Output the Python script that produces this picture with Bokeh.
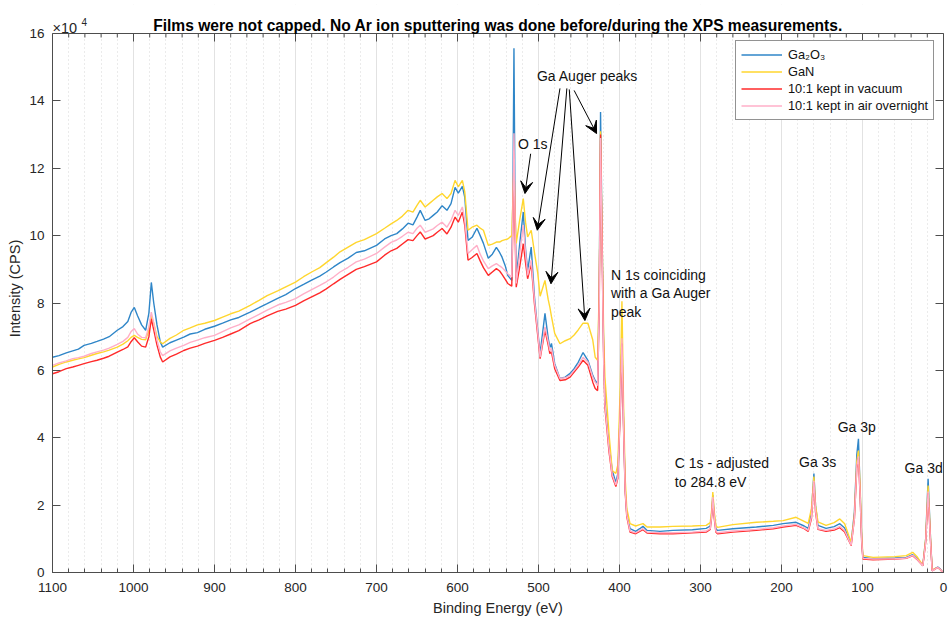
from bokeh.plotting import figure
from bokeh.models import (Range1d, LinearAxis, SingleIntervalTicker, Grid, Legend, LegendItem,
                          Label, Arrow, VeeHead, CustomJSTickFormatter, Span, BoxAnnotation)
from bokeh.embed import file_html
from bokeh.resources import INLINE

# ---------------- data (intensity in units of 1e4 CPS) ----------------
binding_energy_ev = [
    1100, 1092, 1083, 1075, 1068, 1061, 1052, 1045, 1037, 1030,
    1020, 1013, 1007, 1003, 999, 995, 990, 985, 981, 978,
    975, 971, 967, 964, 955, 947, 938, 930, 921, 912,
    900, 890, 880, 870, 856, 845, 835, 822, 812, 800,
    790, 780, 770, 762, 753, 745, 735, 725, 715, 700,
    690, 682, 675, 668, 661, 655, 650, 646, 640, 635,
    630, 625, 619, 613, 608, 603, 599, 594, 591, 587,
    582, 576, 572, 568, 562, 557, 552, 548, 545, 541,
    538, 533, 531.5, 530.3, 529, 527.5, 523, 518.8, 516, 513.4,
    509, 505, 501, 498, 492, 488, 486, 484, 480, 473.5,
    467, 461, 456, 451, 445, 439, 433, 430, 427, 425,
    423.4, 421.5, 419.5, 418, 413, 409, 404.5, 402, 399, 397,
    395, 393, 391, 387, 380, 375, 371, 366, 350, 334,
    310, 293, 288, 286, 284.8, 283, 281, 279, 260, 231,
    210, 198, 182, 172, 167, 163, 160, 158, 155, 145,
    135, 128, 122, 117, 114, 110, 107, 105, 103, 101,
    99.5, 87, 60, 46, 38, 32, 25.5, 22, 19, 16,
    14, 10, 7, 4, 1, 0,
]

ga2o3 = [
    6.39, 6.44, 6.52, 6.58, 6.63, 6.74, 6.80, 6.86, 6.93, 7.00,
    7.19, 7.30, 7.45, 7.72, 7.87, 7.62, 7.35, 7.19, 7.70, 8.61,
    8.00, 7.35, 6.85, 6.69, 6.82, 6.90, 6.99, 7.08, 7.12, 7.22,
    7.31, 7.40, 7.50, 7.57, 7.73, 7.86, 7.98, 8.14, 8.25, 8.43,
    8.55, 8.68, 8.80, 8.92, 9.07, 9.20, 9.33, 9.50, 9.55, 9.71,
    9.90, 10.00, 10.06, 10.20, 10.37, 10.32, 10.55, 10.75, 10.45, 10.50,
    10.60, 10.70, 10.89, 10.75, 10.95, 11.43, 11.26, 11.46, 11.14, 9.86,
    9.95, 10.22, 10.00, 9.77, 9.33, 9.45, 9.65, 9.50, 9.36, 9.10,
    8.82, 8.67, 11.50, 15.56, 11.00, 8.73, 9.80, 10.70, 9.60, 8.97,
    9.66, 8.18, 7.20, 6.50, 7.69, 6.95, 6.68, 6.80, 6.20, 5.76,
    5.80, 5.91, 6.05, 6.24, 6.53, 6.30, 5.85, 5.70, 5.60, 8.50,
    13.67, 10.00, 6.50, 5.10, 3.83, 3.03, 2.67, 2.94, 5.00, 7.10,
    4.50, 2.50, 1.75, 1.30, 1.22, 1.30, 1.37, 1.25, 1.22, 1.25,
    1.27, 1.31, 1.38, 1.80, 2.30, 1.70, 1.30, 1.25, 1.30, 1.35,
    1.40, 1.45, 1.49, 1.38, 1.31, 1.80, 2.94, 2.00, 1.40, 1.31,
    1.36, 1.45, 1.32, 1.00, 0.86, 1.80, 3.50, 3.97, 2.50, 1.00,
    0.45, 0.41, 0.43, 0.45, 0.53, 0.40, 0.21, 1.00, 2.78, 1.00,
    0.06, 0.12, 0.16, 0.10, 0.01, 0.00,
]

gan = [
    6.10, 6.18, 6.25, 6.30, 6.34, 6.38, 6.45, 6.50, 6.55, 6.60,
    6.69, 6.78, 6.88, 6.98, 7.04, 6.98, 6.92, 6.91, 7.20, 7.63,
    7.40, 7.00, 6.85, 6.79, 6.95, 7.05, 7.19, 7.26, 7.35, 7.40,
    7.48, 7.58, 7.68, 7.76, 7.93, 8.08, 8.22, 8.36, 8.48, 8.62,
    8.78, 8.92, 9.05, 9.20, 9.36, 9.52, 9.66, 9.80, 9.88, 10.06,
    10.22, 10.35, 10.45, 10.58, 10.75, 10.70, 10.90, 11.05, 10.85, 10.95,
    11.05, 11.15, 11.25, 11.10, 11.25, 11.64, 11.45, 11.64, 11.30, 10.16,
    10.25, 10.31, 10.22, 10.16, 9.71, 9.75, 9.81, 9.81, 9.85, 9.88,
    9.90, 10.00, 11.20, 12.20, 10.80, 9.77, 10.50, 11.10, 10.40, 9.96,
    10.16, 9.50, 8.90, 8.20, 8.67, 8.10, 7.88, 7.60, 7.10, 6.79,
    6.88, 6.94, 7.05, 7.20, 7.40, 7.40, 6.90, 6.39, 6.30, 8.50,
    13.10, 10.00, 7.00, 5.80, 4.13, 3.03, 2.94, 3.20, 5.60, 8.05,
    5.00, 2.80, 1.90, 1.45, 1.38, 1.42, 1.45, 1.35, 1.35, 1.37,
    1.38, 1.40, 1.48, 1.90, 2.39, 1.80, 1.40, 1.34, 1.42, 1.49,
    1.52, 1.54, 1.64, 1.52, 1.46, 1.90, 2.85, 2.00, 1.50, 1.40,
    1.48, 1.59, 1.45, 1.10, 0.90, 1.70, 3.30, 3.62, 2.60, 1.10,
    0.50, 0.45, 0.47, 0.50, 0.60, 0.45, 0.21, 1.00, 2.58, 1.00,
    0.08, 0.12, 0.14, 0.09, 0.01, 0.00,
]

kept_in_vacuum = [
    5.90, 5.96, 6.05, 6.10, 6.15, 6.20, 6.26, 6.30, 6.36, 6.42,
    6.54, 6.62, 6.70, 6.85, 6.97, 6.85, 6.72, 6.69, 7.00, 7.53,
    7.20, 6.75, 6.40, 6.25, 6.40, 6.48, 6.59, 6.66, 6.72, 6.80,
    6.89, 6.98, 7.08, 7.18, 7.39, 7.50, 7.62, 7.75, 7.82, 7.93,
    8.06, 8.18, 8.30, 8.42, 8.57, 8.70, 8.85, 9.00, 9.08, 9.22,
    9.42, 9.55, 9.62, 9.75, 9.88, 9.85, 10.00, 10.11, 9.90, 9.95,
    10.00, 10.10, 10.21, 10.05, 10.25, 10.55, 10.40, 10.70, 10.30, 9.27,
    9.35, 9.47, 9.25, 9.05, 8.82, 8.92, 9.02, 8.95, 8.85, 8.70,
    8.58, 8.50, 10.50, 12.44, 10.20, 8.47, 9.10, 9.76, 9.20, 8.72,
    9.17, 7.98, 7.05, 6.35, 7.19, 6.75, 6.50, 6.55, 6.05, 5.70,
    5.72, 5.80, 5.95, 6.10, 6.30, 6.15, 5.65, 5.46, 5.40, 8.00,
    13.00, 9.60, 6.30, 4.90, 3.60, 2.85, 2.55, 2.80, 4.80, 6.80,
    4.30, 2.40, 1.65, 1.20, 1.15, 1.22, 1.27, 1.17, 1.15, 1.15,
    1.18, 1.20, 1.28, 1.70, 2.18, 1.60, 1.20, 1.15, 1.20, 1.25,
    1.30, 1.35, 1.40, 1.30, 1.22, 1.60, 2.68, 1.80, 1.28, 1.22,
    1.26, 1.33, 1.20, 0.95, 0.80, 1.60, 3.10, 3.40, 2.30, 0.90,
    0.40, 0.38, 0.40, 0.42, 0.50, 0.37, 0.20, 0.90, 2.35, 0.90,
    0.05, 0.11, 0.15, 0.09, 0.01, 0.00,
]

kept_in_air = [
    6.15, 6.22, 6.28, 6.35, 6.38, 6.42, 6.50, 6.55, 6.60, 6.66,
    6.77, 6.86, 6.98, 7.15, 7.24, 7.08, 6.98, 6.97, 7.30, 7.73,
    7.40, 6.90, 6.55, 6.44, 6.58, 6.66, 6.74, 6.83, 6.90, 6.97,
    7.04, 7.15, 7.26, 7.35, 7.53, 7.66, 7.79, 7.94, 8.02, 8.13,
    8.27, 8.40, 8.52, 8.63, 8.77, 8.92, 9.06, 9.22, 9.30, 9.47,
    9.66, 9.80, 9.87, 9.98, 10.10, 10.06, 10.22, 10.31, 10.10, 10.15,
    10.20, 10.30, 10.40, 10.25, 10.45, 10.75, 10.60, 10.85, 10.45, 9.47,
    9.58, 9.71, 9.45, 9.25, 9.02, 9.10, 9.17, 9.10, 9.05, 8.95,
    8.87, 8.77, 10.80, 13.04, 10.50, 8.58, 9.50, 10.31, 9.50, 8.82,
    9.27, 8.08, 7.15, 6.39, 7.29, 6.85, 6.59, 6.65, 6.15, 5.76,
    5.78, 5.85, 6.00, 6.15, 6.39, 6.25, 5.80, 5.65, 5.55, 8.00,
    12.90, 9.50, 6.20, 5.00, 3.70, 2.90, 2.60, 2.85, 4.90, 6.95,
    4.40, 2.45, 1.70, 1.23, 1.18, 1.25, 1.30, 1.20, 1.18, 1.18,
    1.20, 1.23, 1.30, 1.75, 2.24, 1.65, 1.23, 1.18, 1.23, 1.28,
    1.33, 1.38, 1.43, 1.32, 1.25, 1.65, 2.72, 1.85, 1.30, 1.25,
    1.29, 1.37, 1.24, 0.97, 0.82, 1.60, 3.15, 3.45, 2.35, 0.95,
    0.42, 0.40, 0.41, 0.43, 0.51, 0.38, 0.20, 0.90, 2.40, 0.90,
    0.05, 0.11, 0.15, 0.09, 0.01, 0.00,
]

series_values = [ga2o3, gan, kept_in_vacuum, kept_in_air]
series_names = ["Ga\u2082O\u2083", "GaN", "10:1 kept in vacuum", "10:1 kept in air overnight"]
series_colors = ["#2F86C8", "#FFD62E", "#FF2A2A", "#FFAFC8"]

x_major_ticks = [1100, 1000, 900, 800, 700, 600, 500, 400, 300, 200, 100, 0]
y_max = 16

title_text = "Films were not capped. No Ar ion sputtering was done before/during the XPS measurements."

# annotations (text, x in eV, y in 1e4 CPS)
peak_labels = [
    ("Ga Auger peaks", 501.9, 14.73),
    ("O 1s", 525.3, 12.71),
    ("N 1s coinciding", 410.6, 8.82),
    ("with a Ga Auger", 410.6, 8.29),
    ("peak", 410.6, 7.73),
    ("C 1s - adjusted", 331.7, 3.24),
    ("to 284.8 eV", 331.7, 2.68),
    ("Ga 3s", 178.4, 3.28),
    ("Ga 3p", 130.7, 4.32),
    ("Ga 3d", 48.0, 3.09),
]
# arrows: (x_start, y_start, x_end, y_end)
arrows = [
    (473.5, 14.37, 501.5, 10.16),
    (465.0, 14.37, 484.6, 8.57),
    (462.0, 14.34, 442.7, 7.48),
    (456.0, 14.31, 428.3, 13.03),
    (509.7, 12.43, 516.7, 11.25),
]

FONT = "Liberation Sans"
TXT = "#262626"
AX = "#4D4D4D"

W, H = 950, 621
BORDER_L, BORDER_R, BORDER_T, BORDER_B = 52, 7, 4, 49
AXES_H = 539                      # pixel height of the 0..16 axes box
FRAME_H = H - BORDER_T - BORDER_B
PX_PER_UNIT = AXES_H / y_max
Y_TOP = FRAME_H / PX_PER_UNIT     # frame extends above the axes box to hold the title

p = figure(width=W, height=H, output_backend="svg", toolbar_location=None,
           x_range=Range1d(1100, 0), y_range=Range1d(0, Y_TOP),
           x_axis_type=None, y_axis_type=None,
           min_border_left=BORDER_L, min_border_right=BORDER_R,
           min_border_top=BORDER_T, min_border_bottom=BORDER_B)
p.outline_line_color = None
p.background_fill_color = "white"
p.border_fill_color = "white"

xt = SingleIntervalTicker(interval=100, num_minor_ticks=5)
yt = SingleIntervalTicker(interval=2, num_minor_ticks=0)
blank = CustomJSTickFormatter(code="return ''")


def style(ax):
    ax.axis_line_color = AX
    ax.major_tick_line_color = AX
    ax.minor_tick_line_color = AX
    ax.major_tick_in = 8
    ax.major_tick_out = 0
    ax.minor_tick_in = 4
    ax.minor_tick_out = 0
    ax.major_label_text_font = FONT
    ax.major_label_text_font_size = "13.5px"
    ax.major_label_text_color = TXT
    ax.axis_label_text_font = FONT
    ax.axis_label_text_font_size = "14.5px"
    ax.axis_label_text_font_style = "normal"
    ax.axis_label_text_color = TXT


# grid below everything, masked above the axes box
grid = Grid(dimension=0, ticker=xt, grid_line_color="#E2E2E2", grid_line_width=1,
            minor_grid_line_color="#D6D6D6", minor_grid_line_dash="1 3")
p.add_layout(grid)
p.add_layout(BoxAnnotation(bottom=y_max, fill_color="white", fill_alpha=1.0,
                           line_color=None, level="underlay"))

bottom = LinearAxis(ticker=xt, axis_label="Binding Energy (eV)")
style(bottom)
bottom.major_label_standoff = 10
bottom.axis_label_standoff = 5
p.add_layout(bottom, "below")

left = LinearAxis(ticker=yt, axis_label="Intensity (CPS)", bounds=(0, y_max))
style(left)
left.major_label_standoff = 8
left.axis_label_standoff = 3
p.add_layout(left, "left")

right = LinearAxis(ticker=yt, formatter=blank, bounds=(0, y_max))
style(right)
right.major_label_standoff = 0
right.major_label_text_font_size = "0px"
p.add_layout(right, "right")

# top edge of the axes box with inward ticks
p.add_layout(Span(location=y_max, dimension="width", line_color=AX, line_width=1))
top_minor = [e for e in range(0, 1101, 20) if e not in x_major_ticks]
p.segment(x0=x_major_ticks, y0=[y_max] * len(x_major_ticks), x1=x_major_ticks,
          y1=[y_max - 8 / PX_PER_UNIT] * len(x_major_ticks), line_color=AX, line_width=1)
p.segment(x0=top_minor, y0=[y_max] * len(top_minor), x1=top_minor,
          y1=[y_max - 4 / PX_PER_UNIT] * len(top_minor), line_color=AX, line_width=1)

renderers = []
for vals, col in zip(series_values, series_colors):
    r = p.line(binding_energy_ev, vals, line_color=col, line_width=1.4)
    renderers.append(r)

legend = Legend(items=[LegendItem(label=n, renderers=[r]) for n, r in zip(series_names, renderers)],
                location=(683, 452), padding=5, spacing=0, margin=0,
                glyph_width=41, glyph_height=17, label_height=17, label_standoff=6,
                label_text_font=FONT, label_text_font_size="12.8px", label_text_color="#111111",
                border_line_color="#262626", border_line_width=1,
                background_fill_color="white", background_fill_alpha=1.0)
p.add_layout(legend)

for text, x, y in peak_labels:
    p.add_layout(Label(x=x, y=y, text=text, text_align="left", text_baseline="middle",
                       text_font=FONT, text_font_size="14px", text_color="#111111"))

for xs, ys, xe, ye in arrows:
    p.add_layout(Arrow(x_start=xs, y_start=ys, x_end=xe, y_end=ye,
                       line_color="black", line_width=1,
                       end=VeeHead(size=12, fill_color="black", line_color="black")))

# title and exponent, inside the frame above the axes box
p.add_layout(Label(x=550, y=y_max, y_offset=8, text=title_text, text_align="center",
                   text_baseline="alphabetic", text_font=FONT, text_font_size="15.6px",
                   text_font_style="bold", text_color="black"))
p.add_layout(Label(x=1100, y=y_max, y_offset=6, text="\u00d710", text_align="left",
                   text_baseline="alphabetic", text_font=FONT, text_font_size="14.5px", text_color=TXT))
p.add_layout(Label(x=1100, y=y_max, x_offset=29, y_offset=12, text="4", text_align="left",
                   text_baseline="alphabetic", text_font=FONT, text_font_size="10px", text_color=TXT))

open("out.html", "w").write(file_html(p, INLINE))
